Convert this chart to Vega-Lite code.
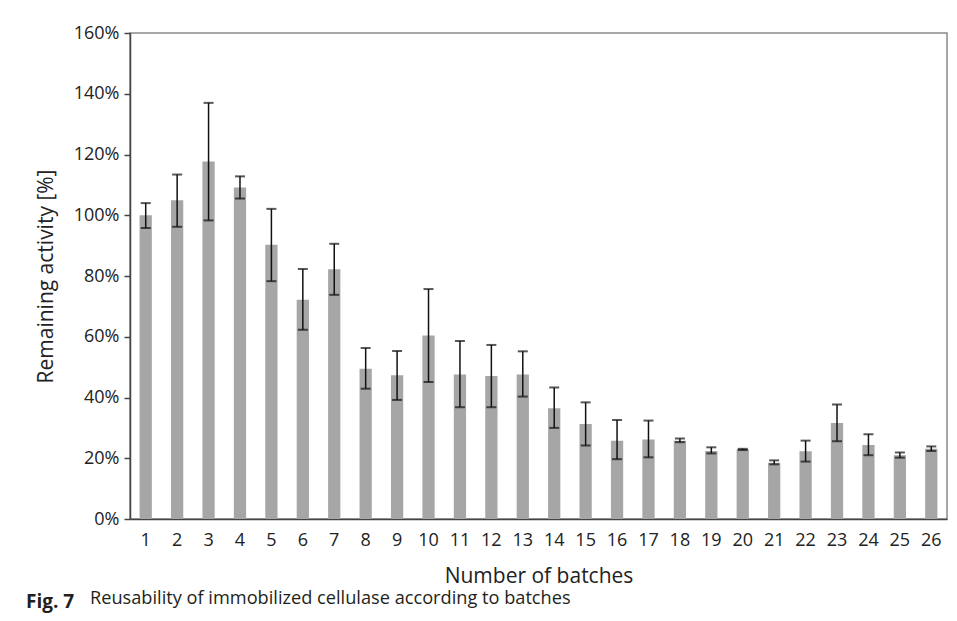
{
  "$schema": "https://vega.github.io/schema/vega-lite/v6.json",
  "autosize": {"type": "pad"},
  "padding": {"left": 25, "top": 23, "right": 5, "bottom": 5},
  "background": "white",
  "config": {
    "font": "Open Sans",
    "view": {"stroke": "#8a8a8a", "strokeWidth": 1.5}
  },
  "title": {
    "text": "Reusability of immobilized cellulase according to batches",
    "orient": "bottom",
    "anchor": "start",
    "frame": "group",
    "dx": -40,
    "offset": -23,
    "font": "Open Sans",
    "fontSize": 18.2,
    "fontWeight": "normal",
    "color": "#231f20"
  },
  "vconcat": [
    {
      "width": 817,
      "height": 486,
      "title": {
        "text": "Fig. 7",
        "orient": "bottom",
        "anchor": "start",
        "frame": "group",
        "dx": -104,
        "offset": 7,
        "font": "Open Sans",
        "fontSize": 19,
        "fontWeight": "bold",
        "color": "#231f20"
      },
      "data": {
        "values": [
          {"batch": 1, "value": 100.0, "lo": 95.8, "hi": 104.0},
          {"batch": 2, "value": 104.9, "lo": 96.2, "hi": 113.4},
          {"batch": 3, "value": 117.7, "lo": 98.3, "hi": 137.0},
          {"batch": 4, "value": 109.1, "lo": 105.5, "hi": 112.8},
          {"batch": 5, "value": 90.3, "lo": 78.3, "hi": 102.1},
          {"batch": 6, "value": 72.2, "lo": 62.3, "hi": 82.3},
          {"batch": 7, "value": 82.2, "lo": 73.8, "hi": 90.6},
          {"batch": 8, "value": 49.5, "lo": 42.9, "hi": 56.3},
          {"batch": 9, "value": 47.3, "lo": 39.2, "hi": 55.3},
          {"batch": 10, "value": 60.4, "lo": 45.1, "hi": 75.7},
          {"batch": 11, "value": 47.6, "lo": 36.8, "hi": 58.6},
          {"batch": 12, "value": 47.1, "lo": 36.8, "hi": 57.3},
          {"batch": 13, "value": 47.6, "lo": 40.3, "hi": 55.2},
          {"batch": 14, "value": 36.5, "lo": 30.0, "hi": 43.3},
          {"batch": 15, "value": 31.3, "lo": 24.2, "hi": 38.4},
          {"batch": 16, "value": 25.8, "lo": 19.7, "hi": 32.6},
          {"batch": 17, "value": 26.2, "lo": 20.3, "hi": 32.4},
          {"batch": 18, "value": 25.8, "lo": 25.3, "hi": 26.5},
          {"batch": 19, "value": 22.4, "lo": 21.6, "hi": 23.6},
          {"batch": 20, "value": 22.9, "lo": 22.7, "hi": 23.1},
          {"batch": 21, "value": 18.5, "lo": 18.0, "hi": 19.3},
          {"batch": 22, "value": 22.3, "lo": 18.9, "hi": 25.8},
          {"batch": 23, "value": 31.6, "lo": 25.6, "hi": 37.7},
          {"batch": 24, "value": 24.4, "lo": 21.0, "hi": 27.9},
          {"batch": 25, "value": 21.0, "lo": 20.2, "hi": 21.9},
          {"batch": 26, "value": 23.1, "lo": 22.4, "hi": 23.9}
        ]
      },
      "encoding": {
        "x": {
          "field": "batch",
          "type": "ordinal",
          "sort": "ascending",
          "scale": {"paddingInner": 0.61, "paddingOuter": 0.305},
          "axis": {
            "title": "Number of batches",
            "titleFont": "Open Sans",
            "titleFontSize": 21,
            "titleFontWeight": "normal",
            "titleColor": "#222222",
            "titlePadding": 16,
            "labelFont": "Open Sans",
            "labelFontSize": 18,
            "labelColor": "#222222",
            "labelAngle": 0,
            "labelPadding": 12,
            "ticks": false,
            "domainColor": "#444444",
            "domainWidth": 1.5
          }
        }
      },
      "layer": [
        {
          "mark": {"type": "bar", "color": "#a6a6a6"},
          "encoding": {
            "y": {
              "field": "value",
              "type": "quantitative",
              "scale": {"domain": [0, 160], "nice": false},
              "axis": {
                "title": "Remaining activity [%]",
                "titleFont": "Open Sans",
                "titleFontSize": 21,
                "titleFontWeight": "normal",
                "titleColor": "#222222",
                "titlePadding": 17,
                "values": [0, 20, 40, 60, 80, 100, 120, 140, 160],
                "labelExpr": "datum.value + '%'",
                "labelFont": "Open Sans",
                "labelFontSize": 18,
                "labelColor": "#222222",
                "labelPadding": 5,
                "tickSize": 6,
                "tickColor": "#444444",
                "tickWidth": 1.5,
                "domainColor": "#444444",
                "domainWidth": 1.5,
                "grid": false
              }
            }
          }
        },
        {
          "mark": {"type": "rule", "color": "#111111", "strokeWidth": 1.5},
          "encoding": {
            "y": {"field": "lo", "type": "quantitative"},
            "y2": {"field": "hi"}
          }
        },
        {
          "mark": {"type": "tick", "color": "#111111", "size": 10, "thickness": 2},
          "encoding": {
            "y": {"field": "lo", "type": "quantitative"}
          }
        },
        {
          "mark": {"type": "tick", "color": "#111111", "size": 10, "thickness": 2},
          "encoding": {
            "y": {"field": "hi", "type": "quantitative"}
          }
        }
      ]
    }
  ]
}
